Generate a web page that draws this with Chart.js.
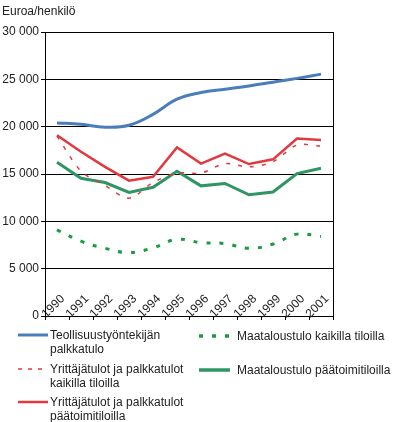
<!DOCTYPE html>
<html>
<head>
<meta charset="utf-8">
<script src="https://cdn.jsdelivr.net/npm/chart.js@4/dist/chart.umd.min.js"></script>
<style>
  body { margin: 0; background: #fff; font-family: "Liberation Sans", Arial, sans-serif; color: #222; }
  #wrap { position: relative; width: 396px; height: 422px; }
  #title { position: absolute; left: 2px; top: 4px; font-size: 12px; }
  #chart { position: absolute; left: 0; top: 0; }
  .lg { position: absolute; font-size: 12px; line-height: 14px; }
  .lg svg { position: absolute; }
</style>
</head>
<body>
<div id="wrap">
  <canvas id="chart" width="396" height="330"></canvas>
  <div id="title">Euroa/henkilö</div>
  <div id="legend"></div>
</div>
<script>
// --- data ---
const years = ['1990', '1991', '1992', '1993', '1994', '1995', '1996', '1997', '1998', '1999', '2000', '2001'];
const teollisuus = [20400, 20250, 19950, 20150, 21300, 22900, 23600, 23950, 24300, 24700, 25100, 25550];
const yrittajaKaikki = [19000, 15300, 13800, 12450, 14100, 15100, 15100, 16100, 15750, 16300, 18050, 17950];
const yrittajaPaa = [19100, 17350, 15750, 14300, 14700, 17800, 16100, 17150, 16050, 16550, 18750, 18600];
const maatalousKaikki = [9100, 7900, 7150, 6700, 7200, 8100, 7750, 7650, 7150, 7600, 8650, 8400];
const maatalousPaa = [16250, 14550, 14100, 13050, 13600, 15300, 13750, 14000, 12800, 13100, 15050, 15600];
const yTicks = [0, 5000, 10000, 15000, 20000, 25000, 30000];

const blue = '#4a7ebb';
const red = '#e0393e';
const green = '#2f9563';
const green2 = '#1c9a3e';

const font = { family: '"Liberation Sans", Arial, sans-serif', size: 12 };

const ctx = document.getElementById('chart').getContext('2d');
new Chart(ctx, {
    type: 'line',
    data: {
        labels: years,
        datasets: [
            { label: 'Maataloustulo kaikilla tiloilla', data: maatalousKaikki, borderColor: green2, borderWidth: 3, borderDash: [4, 9], tension: 0.4, pointRadius: 0 },
            { label: 'Yrittäjätulot ja palkkatulot kaikilla tiloilla', data: yrittajaKaikki, borderColor: red, borderWidth: 1.5, borderDash: [4, 8], tension: 0.3, pointRadius: 0 },
            { label: 'Maataloustulo päätoimitiloilla', data: maatalousPaa, borderColor: green, borderWidth: 3, tension: 0, pointRadius: 0 },
            { label: 'Yrittäjätulot ja palkkatulot päätoimitiloilla', data: yrittajaPaa, borderColor: red, borderWidth: 2.5, tension: 0, pointRadius: 0 },
            { label: 'Teollisuustyöntekijän palkkatulo', data: teollisuus, borderColor: blue, borderWidth: 3, tension: 0.4, pointRadius: 0 }
        ]
    },
    options: {
        responsive: false,
        animation: false,
        layout: { padding: { top: 32, right: 63, bottom: 8, left: 0 } },
        plugins: { legend: { display: false }, tooltip: { enabled: false } },
        scales: {
            x: {
                offset: true,
                grid: { drawOnChartArea: false, drawTicks: true, tickLength: 4, color: '#000', offset: true },
                border: { color: '#000', width: 1 },
                // mirror keeps the labels inside the plot, as in the original
                ticks: { minRotation: 45, maxRotation: 45, mirror: true, padding: 14, labelOffset: 16, autoSkip: false, font: font, color: '#222' },
                afterFit: axis => { axis.height = 6; }
            },
            y: {
                min: 0, max: 30000,
                afterBuildTicks: axis => { axis.ticks = yTicks.map(v => ({ value: v })); },
                grid: { color: '#000', tickLength: 4 },
                border: { color: '#000', width: 1 },
                ticks: {
                    padding: 2, font: font, color: '#222',
                    callback: v => String(v).replace(/\B(?=(\d{3})+(?!\d))/g, ' ')
                },
                afterFit: axis => { axis.width = 45; }
            },
            yRight: {
                position: 'right', min: 0, max: 30000,
                grid: { display: false },
                border: { color: '#000', width: 1 },
                ticks: { display: false },
                afterFit: axis => { axis.width = 0; }
            }
        }
    }
});

// --- HTML legend ---
const legendItems = [
    { x: 18, y: 328, text: 'Teollisuustyöntekijän<br>palkkatulo', color: blue, width: 3, dash: '' },
    { x: 18, y: 362, text: 'Yrittäjätulot ja palkkatulot<br>kaikilla tiloilla', color: red, width: 1.5, dash: '4 6' },
    { x: 18, y: 395, text: 'Yrittäjätulot ja palkkatulot<br>päätoimitiloilla', color: red, width: 2.5, dash: '' },
    { x: 199, y: 329, text: 'Maataloustulo kaikilla tiloilla', color: green2, width: 3.5, dash: '4 9' },
    { x: 199, y: 363, text: 'Maataloustulo päätoimitiloilla', color: green, width: 3.5, dash: '' }
];
const legend = document.getElementById('legend');
legendItems.forEach(it => {
    const d = document.createElement('div');
    d.className = 'lg';
    d.style.left = it.x + 'px';
    d.style.top = it.y + 'px';
    const lineW = it.x < 100 ? 30 : 31;
    const textX = it.x < 100 ? 32 : 38;
    d.innerHTML = `<svg width="${lineW}" height="8" style="left:0;top:3px"><line x1="0" y1="4" x2="${lineW}" y2="4" stroke="${it.color}" stroke-width="${it.width}" ${it.dash ? `stroke-dasharray="${it.dash}"` : ''}/></svg>` +
        `<div style="margin-left:${textX}px;white-space:nowrap">${it.text}</div>`;
    legend.appendChild(d);
});
</script>
</body>
</html>
